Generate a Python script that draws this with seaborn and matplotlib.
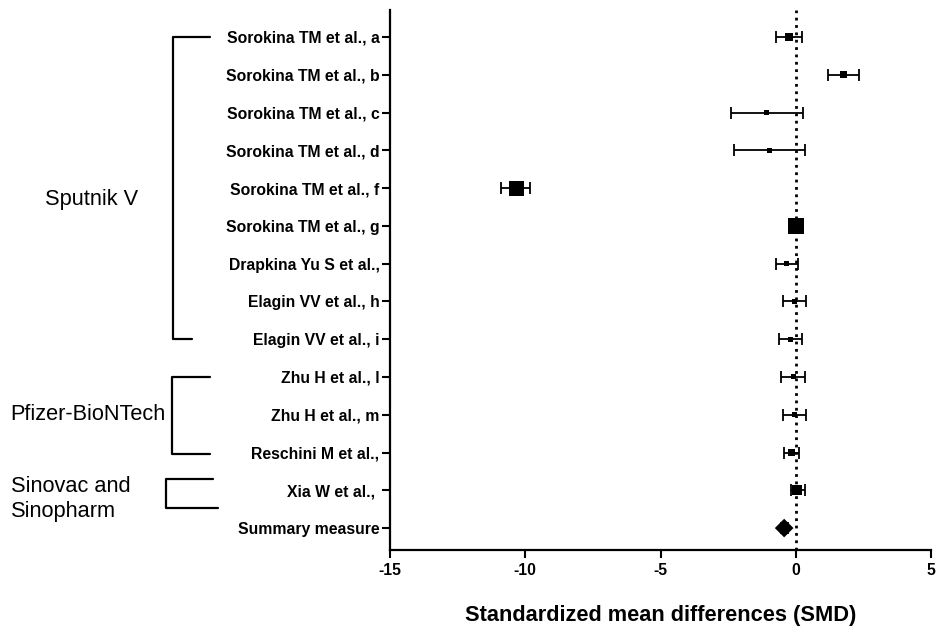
import numpy as np
import pandas as pd
import matplotlib.pyplot as plt
import seaborn as sns

# forest plot values
studies = ['Sorokina TM et al., a', 'Sorokina TM et al., b', 'Sorokina TM et al., c',
           'Sorokina TM et al., d', 'Sorokina TM et al., f', 'Sorokina TM et al., g',
           'Drapkina Yu S et al.,', 'Elagin VV et al., h', 'Elagin VV et al., i',
           'Zhu H et al., l', 'Zhu H et al., m', 'Reschini M et al.,', 'Xia W et al., ']
smd = [-0.26, 1.77, -1.08, -0.99, -10.32, 0.02, -0.34, -0.05, -0.18, -0.10, -0.05, -0.16, 0.06]
ci_low = [-0.74, 1.20, -2.40, -2.29, -10.90, -0.20, -0.74, -0.47, -0.62, -0.53, -0.47, -0.43, -0.16]
ci_high = [0.23, 2.34, 0.25, 0.34, -9.83, 0.22, 0.09, 0.39, 0.23, 0.33, 0.39, 0.12, 0.33]
weight = [2.5, 2.0, 1.0, 1.0, 9.0, 10.0, 1.0, 1.0, 1.0, 1.0, 1.0, 2.5, 4.0]

summary_label = 'Summary measure'
summary_smd = -0.43
summary_low = -0.55
summary_high = -0.30

groups = ['Sputnik V', 'Pfizer-BioNTech', 'Sinovac and', 'Sinopharm']

df = pd.DataFrame({'study': studies, 'smd': smd, 'low': ci_low,
                   'high': ci_high, 'weight': weight})
df['pos'] = np.arange(len(df))
summary_pos = len(df)

sns.set_theme(style='white')
plt.rcParams['font.family'] = ['Liberation Sans', 'DejaVu Sans']
plt.rcParams['text.color'] = 'black'
plt.rcParams['axes.labelcolor'] = 'black'

fig, ax = plt.subplots(figsize=(9.36, 6.35), dpi=100)
fig.subplots_adjust(left=0.4167, right=0.9947, bottom=0.1339, top=0.984)

# reference line at zero
ax.axvline(0, color='black', linestyle=':', linewidth=2, zorder=1)

# confidence intervals
ax.errorbar(df['smd'], df['pos'],
            xerr=[df['smd'] - df['low'], df['high'] - df['smd']],
            fmt='none', ecolor='black', elinewidth=1.3, capsize=4, capthick=1.3, zorder=2)
ax.errorbar([summary_smd], [summary_pos],
            xerr=[[summary_smd - summary_low], [summary_high - summary_smd]],
            fmt='none', ecolor='black', elinewidth=1.3, capsize=4, capthick=1.3, zorder=2)

# study squares sized by weight
sns.scatterplot(data=df, x='smd', y='pos', size='weight', sizes=(13, 130),
                marker='s', color='black', edgecolor='none', legend=False, ax=ax, zorder=3)
# summary diamond
sns.scatterplot(x=[summary_smd], y=[summary_pos], marker='D', s=90,
                color='black', edgecolor='none', legend=False, ax=ax, zorder=3)

ax.set_xlim(-15, 5)
ax.set_ylim(13.58, -0.71)
ax.set_xticks([-15, -10, -5, 0, 5])
ax.set_xticklabels(['-15', '-10', '-5', '0', '5'], fontweight='bold', fontsize=11.3)
ax.set_yticks(list(df['pos']) + [summary_pos])
ax.set_yticklabels(list(df['study']) + [summary_label], fontweight='bold', fontsize=11.3)
ax.set_xlabel('Standardized mean differences (SMD)', fontweight='bold', fontsize=15.7,
              labelpad=19, color='black')
ax.set_ylabel('')

sns.despine(ax=ax)
for side in ['left', 'bottom']:
    ax.spines[side].set_linewidth(1.6)
    ax.spines[side].set_color('black')
ax.tick_params(axis='both', which='major', direction='out', length=5.5, width=1.5,
               color='black', labelcolor='black', left=True, bottom=True)
ax.tick_params(axis='y', pad=2)
ax.tick_params(axis='x', pad=4)
ax.grid(False)

# group brackets (x in axes fraction, y in row units)
tr = ax.get_yaxis_transform()
def fx(px):
    return (px - 390) / 541.0

bracket_kw = dict(color='black', linewidth=1.6, transform=tr, clip_on=False)
# Sputnik V
ax.plot([fx(210), fx(173), fx(173), fx(192)], [0, 0, 8, 8], **bracket_kw)
# Pfizer-BioNTech
ax.plot([fx(210), fx(172), fx(172), fx(210)], [9, 9, 11.05, 11.05], **bracket_kw)
# Sinovac and Sinopharm
ax.plot([fx(213), fx(166), fx(166), fx(218)], [11.71, 11.71, 12.48, 12.48], **bracket_kw)

group_kw = dict(transform=tr, fontsize=15.7, ha='left', va='center', color='black')
ax.text(fx(45), 4.31, groups[0], **group_kw)
ax.text(fx(10), 10.0, groups[1], **group_kw)
ax.text(fx(11), 11.9, groups[2], **group_kw)
ax.text(fx(11), 12.57, groups[3], **group_kw)

fig.savefig('out.png', dpi=100)
